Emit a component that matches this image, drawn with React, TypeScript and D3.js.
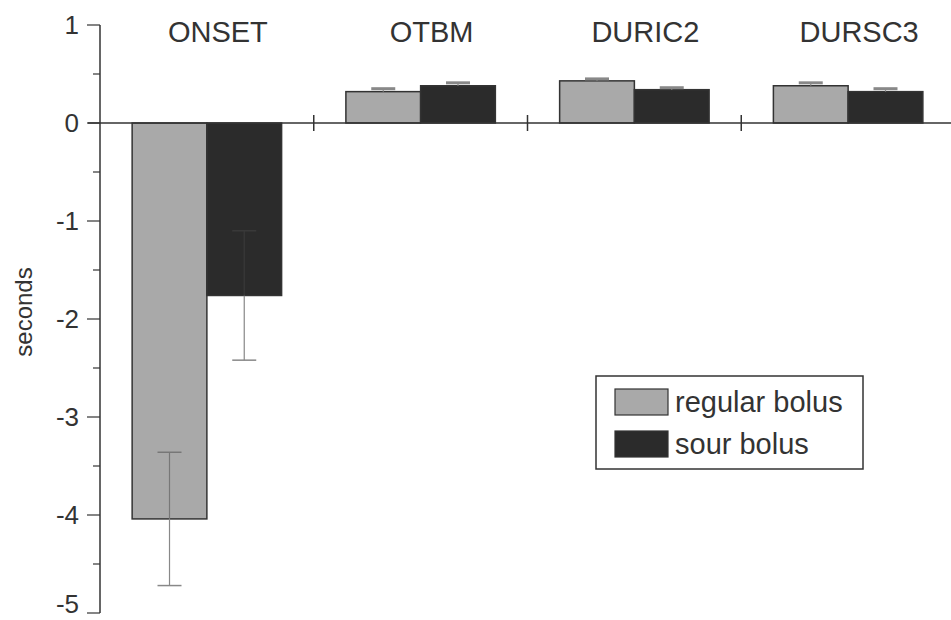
import { useEffect, useRef } from 'react';
import * as d3 from 'd3';

const categories = ['ONSET', 'OTBM', 'DURIC2', 'DURSC3'];
const series = ['regular bolus', 'sour bolus'];
const regularValues = [-4.04, 0.32, 0.43, 0.38];
const regularErrors = [0.68, 0.03, 0.02, 0.03];
const sourValues = [-1.76, 0.38, 0.34, 0.32];
const sourErrors = [0.66, 0.03, 0.02, 0.03];
const yTicks = [1, 0, -1, -2, -3, -4, -5];
const colors = ['#a9a9a9', '#2b2b2b'];

const W = 951;
const H = 620;
const FONT = 'Liberation Sans, Arial, sans-serif';

export default function App() {
  const ref = useRef<SVGSVGElement>(null);

  useEffect(() => {
    const svg = d3.select(ref.current);
    svg.selectAll('*').remove();

    const y = d3.scaleLinear().domain([-5, 1]).range([613, 25]);
    const x0 = d3.scaleBand().domain(categories).range([100, 955]).padding(0);
    const x1 = d3.scaleBand().domain(series).range([0, x0.bandwidth()])
      .paddingInner(0).paddingOuter(0.43);

    const data = categories.map((c, i) => ({
      cat: c,
      vals: [
        { s: series[0], v: regularValues[i], e: regularErrors[i] },
        { s: series[1], v: sourValues[i], e: sourErrors[i] },
      ],
    }));

    // y axis line
    svg.append('line')
      .attr('x1', 100).attr('x2', 100).attr('y1', y(1)).attr('y2', y(-5))
      .attr('stroke', '#333').attr('stroke-width', 1.5);

    // minor ticks
    d3.range(-4.5, 1, 1).forEach(v => {
      svg.append('line')
        .attr('x1', 93).attr('x2', 100).attr('y1', y(v)).attr('y2', y(v))
        .attr('stroke', '#333').attr('stroke-width', 1.2);
    });

    // major ticks + labels (bottom one nudged up so it stays in the frame)
    yTicks.forEach(v => {
      svg.append('line')
        .attr('x1', 87).attr('x2', 100).attr('y1', y(v)).attr('y2', y(v))
        .attr('stroke', '#333').attr('stroke-width', 1.2);
      svg.append('text')
        .attr('x', 79).attr('y', y(v) - (v === -5 ? 9 : 0)).attr('dy', '0.35em')
        .attr('text-anchor', 'end')
        .style('font-family', FONT).style('font-size', '26px').style('fill', '#333')
        .text(v);
    });

    // y label
    svg.append('text')
      .attr('transform', `translate(32, 312) rotate(-90)`)
      .attr('text-anchor', 'middle')
      .style('font-family', FONT).style('font-size', '24px').style('fill', '#333')
      .text('seconds');

    // bars
    const groups = svg.selectAll('g.grp').data(data).enter().append('g')
      .attr('class', 'grp')
      .attr('transform', d => `translate(${x0(d.cat)},0)`);

    groups.selectAll('rect').data(d => d.vals).enter().append('rect')
      .attr('x', d => x1(d.s)!)
      .attr('width', x1.bandwidth())
      .attr('y', d => y(Math.max(0, d.v)))
      .attr('height', d => Math.abs(y(d.v) - y(0)))
      .attr('fill', (d, i) => colors[i])
      .attr('stroke', '#333').attr('stroke-width', 1.5);

    // error bars
    groups.selectAll('g.err').data(d => d.vals).enter().append('g')
      .attr('class', 'err')
      .each(function (d, i) {
        const g = d3.select(this);
        const cx = x1(d.s)! + x1.bandwidth() / 2;
        const outer = d.v < 0 ? d.v - d.e : d.v + d.e;
        const inner = d.v < 0 ? d.v + d.e : d.v - d.e;
        const innerCol = i === 1 ? '#3a3a3a' : '#777';
        g.append('line')
          .attr('x1', cx).attr('x2', cx).attr('y1', y(d.v)).attr('y2', y(outer))
          .attr('stroke', '#888').attr('stroke-width', 1.2);
        if (d.e > 0.1) {
          g.append('line')
            .attr('x1', cx).attr('x2', cx).attr('y1', y(d.v)).attr('y2', y(inner))
            .attr('stroke', innerCol).attr('stroke-width', 1.2);
          g.append('line')
            .attr('x1', cx - 12).attr('x2', cx + 12).attr('y1', y(inner)).attr('y2', y(inner))
            .attr('stroke', innerCol).attr('stroke-width', 1.5);
        }
        g.append('line')
          .attr('x1', cx - 12).attr('x2', cx + 12).attr('y1', y(outer)).attr('y2', y(outer))
          .attr('stroke', '#888').attr('stroke-width', d.e < 0.1 ? 3 : 1.5);
      });

    // zero line
    svg.append('line')
      .attr('x1', 88).attr('x2', W).attr('y1', y(0)).attr('y2', y(0))
      .attr('stroke', '#333').attr('stroke-width', 1.5);

    // category separators
    categories.slice(1).forEach(c => {
      const xx = x0(c)!;
      svg.append('line')
        .attr('x1', xx).attr('x2', xx).attr('y1', y(0) - 8).attr('y2', y(0) + 8)
        .attr('stroke', '#333').attr('stroke-width', 1.5);
    });

    // category labels
    categories.forEach(c => {
      svg.append('text')
        .attr('x', x0(c)! + x0.bandwidth() / 2 + 11).attr('y', 42)
        .attr('text-anchor', 'middle')
        .style('font-family', FONT).style('font-size', '29px').style('fill', '#333')
        .text(c);
    });

    // legend
    const lg = svg.append('g').attr('transform', 'translate(596,376)');
    lg.append('rect').attr('width', 267).attr('height', 93)
      .attr('fill', 'white').attr('stroke', '#333').attr('stroke-width', 1.5);
    series.forEach((s, i) => {
      const row = lg.append('g').attr('transform', `translate(19, ${13 + i * 42})`);
      row.append('rect').attr('width', 53).attr('height', 26)
        .attr('fill', colors[i]).attr('stroke', '#333').attr('stroke-width', 1.2);
      row.append('text').attr('x', 60).attr('y', 13).attr('dy', '0.35em')
        .style('font-family', FONT).style('font-size', '29px').style('fill', '#333')
        .text(s);
    });
  }, []);

  return (
    <svg ref={ref} width={W} height={H}
      style={{ position: 'absolute', left: 0, top: 0, background: 'white' }} />
  );
}
